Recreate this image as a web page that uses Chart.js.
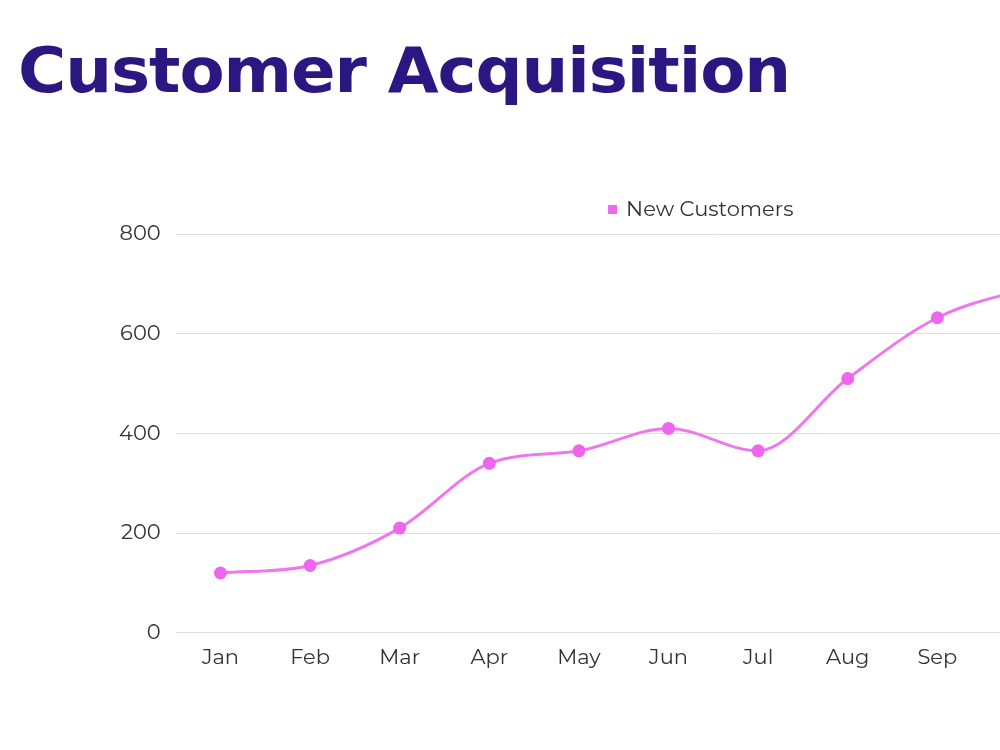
<!DOCTYPE html>
<html>
<head>
<meta charset="utf-8">
<script src="https://cdn.jsdelivr.net/npm/chart.js@4.4.1/dist/chart.umd.min.js"></script>
<style>
  html, body { margin: 0; padding: 0; background: #ffffff; width: 1000px; height: 750px; overflow: hidden; }
  #title { position: absolute; left: 18px; top: 40px; margin: 0; font-family: "DejaVu Sans", sans-serif; font-weight: 900; font-size: 62px; line-height: 1; color: #2a1782; letter-spacing: -1px; white-space: nowrap; transform-origin: left top; }
  #wrap { position: absolute; left: 0; top: 176px; width: 1406px; height: 516px; }
</style>
</head>
<body>
<h1 id="title">Customer Acquisition</h1>
<div id="wrap"><canvas id="c"></canvas></div>
<script>
const categories = ["Jan","Feb","Mar","Apr","May","Jun","Jul","Aug","Sep","Oct","Nov","Dec"];
const newCustomers = [120, 135, 210, 340, 365, 410, 365, 510, 632, 690, 730, 780];
const yTicks = [0, 200, 400, 600, 800];

const t = document.getElementById('title');
const targetW = 772;
const w = t.getBoundingClientRect().width;
t.style.transform = 'scaleX(' + (targetW / w) + ')';

const legendGap = {
  id: 'legendGap',
  beforeInit(chart) {
    const lg = chart.legend;
    if (!lg) return;
    const f = lg.fit;
    lg.fit = function () { f.call(this); this.height += 4; };
  }
};

const font = { family: "Montserrat, 'Open Sans', Lato, sans-serif", size: 21 };
new Chart(document.getElementById('c'), {
  type: 'line',
  data: {
    labels: categories,
    datasets: [{
      label: 'New Customers',
      data: newCustomers,
      borderColor: '#ee77ee',
      backgroundColor: '#ee66ee',
      pointBackgroundColor: '#ee66ee',
      pointBorderColor: '#ee66ee',
      pointRadius: 5,
      borderWidth: 3,
      tension: 0.4,
      cubicInterpolationMode: 'monotone',
      fill: false,
      yAxisID: 'y'
    }]
  },
  plugins: [legendGap],
  options: {
    responsive: true,
    maintainAspectRatio: false,
    animation: false,
    layout: { padding: { left: 104, right: 107, top: 0, bottom: 10 } },
    plugins: {
      legend: {
        display: true,
        position: 'top',
        labels: { usePointStyle: true, pointStyle: 'rect', boxWidth: 6, boxHeight: 6, font: font, color: '#333333', padding: 23 }
      },
      tooltip: { enabled: false }
    },
    scales: {
      x: {
        offset: true,
        grid: { display: false, drawTicks: false },
        border: { display: false },
        ticks: { font: font, color: '#333333', padding: 12 }
      },
      y: {
        min: 0, max: 800,
        afterBuildTicks: (axis) => { axis.ticks = yTicks.map(v => ({ value: v })); },
        grid: { color: '#dddddd', drawTicks: false },
        border: { display: false },
        ticks: { font: font, color: '#333333', padding: 15 }
      },
      y2: {
        position: 'right',
        display: true,
        min: 0, max: 800,
        grid: { display: false, drawTicks: false },
        border: { display: false },
        ticks: { display: false },
        afterFit: (a) => { a.width = 48; }
      }
    }
  }
});
</script>
</body>
</html>
